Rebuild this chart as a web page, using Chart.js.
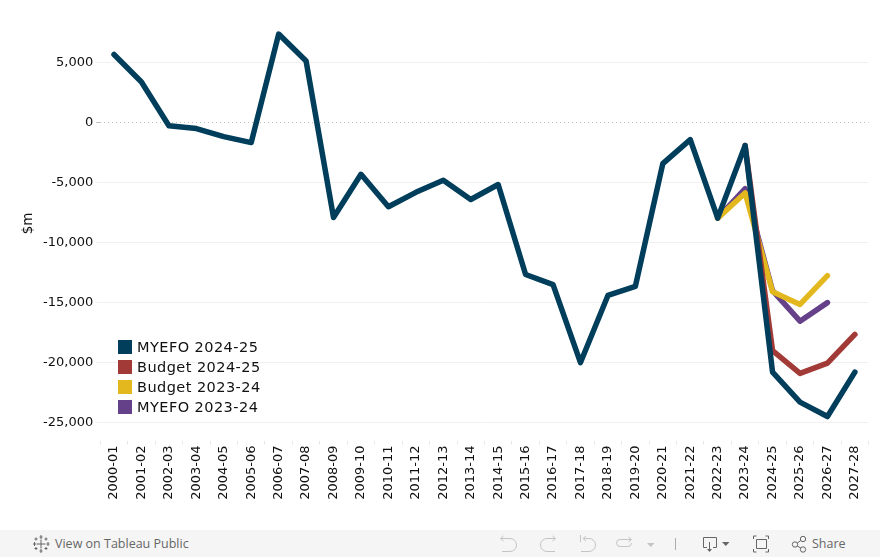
<!DOCTYPE html>
<html>
<head>
<meta charset="utf-8">
<script src="https://cdn.jsdelivr.net/npm/chart.js@4/dist/chart.umd.min.js"></script>
<style>
  html, body { margin: 0; padding: 0; background: #fff; }
  #wrap { position: relative; width: 880px; height: 557px; overflow: hidden; }
  #chart-box { position: absolute; left: 0; top: 0; width: 880px; height: 530px; }
  #legend { position: absolute; left: 118px; top: 337px; font: 14.5px "DejaVu Sans", sans-serif; letter-spacing: 0.45px; color: #111; }
  #legend div { height: 20px; line-height: 20px; white-space: nowrap; }
  #legend i { display: inline-block; width: 14px; height: 14px; margin-right: 5px; vertical-align: -2px; }
  #toolbar { position: absolute; left: 0; top: 530px; width: 880px; height: 27px; background: #f5f5f5;
    font: 12.5px "Open Sans", sans-serif; color: #666; }
  #toolbar span { position: absolute; top: 5px; white-space: nowrap; }
  #toolbar svg { position: absolute; left: 0; top: 0; }
</style>
</head>
<body>
<div id="wrap">
  <div id="chart-box"><canvas id="chart-deficit"></canvas></div>
  <div id="legend"></div>
  <div id="toolbar">
    <svg width="880" height="27" fill="none" stroke-width="1">
      <!-- tableau logo -->
      <path stroke="#666" d="M41 9.500v9M36.500 14h9M41 5v4M39.500 7h3M41 19v4M39.500 21h3M34.500 12v4M33 14h3M48 12v4M46.500 14h3M36 7.500v3M34.500 9h3M46 7.500v3M44.500 9h3M36 17v3M34.500 18.500h3M46 17v3M44.500 18.500h3"/>
      <g stroke="#c4c4c4">
        <path d="M501 8.500h9a6.500 6.500 0 0 1 0 13h-8M503.500 6l-3 2.500 3 2.500"/>
        <path d="M555 8.500h-8a6.500 6.500 0 0 0 0 13h8M552.500 6l3 2.500-3 2.500"/>
        <path d="M580.500 5v7M584 8.500h5a6.500 6.500 0 0 1 0 13h-8M586 6l-3 2.500 3 2.500"/>
        <path d="M631 9.500h-11a3.500 3.500 0 0 0 0 7h8a3.500 3.500 0 0 0 3.500-3.500M628.500 7l3 2.500-3 2.500"/>
        <path d="M647 13h7.500l-3.700 4z" fill="#c4c4c4" stroke="none"/>
        <path d="M675.500 8v12" stroke="#aaa"/>
      </g>
      <g stroke="#666">
        <path d="M707 17.500h-3.500v-10h13v10h-3.500M709.500 12v8"/>
        <path d="M707 19h5l-2.500 3z" fill="#666" stroke="none"/>
        <path d="M722 12h7.500l-3.700 4z" fill="#666" stroke="none"/>
        <path d="M753.500 9v-3h3M765.500 6h3v3M753.500 19v3h3M768.500 19v3h-3M756.500 9.500h10v9h-10z"/>
        <circle cx="795" cy="14.500" r="2.700"/><circle cx="803" cy="9" r="2.700"/><circle cx="803" cy="19.500" r="2.700"/>
        <path d="M797.300 13l3.500-2.500M797.300 16l3.500 2"/>
      </g>
    </svg>
    <span style="left:55px">View on Tableau Public</span>
    <span style="left:812px">Share</span>
  </div>
</div>
<script>
const years = ['2000-01','2001-02','2002-03','2003-04','2004-05','2005-06','2006-07','2007-08','2008-09','2009-10',
  '2010-11','2011-12','2012-13','2013-14','2014-15','2015-16','2016-17','2017-18','2018-19','2019-20',
  '2020-21','2021-22','2022-23','2023-24','2024-25','2025-26','2026-27','2027-28'];

const myefo2425 = [5700,3400,-250,-480,-1150,-1650,7400,5150,-7900,-4300,
  -7000,-5800,-4800,-6400,-5150,-12650,-13500,-20000,-14400,-13650,
  -3400,-1400,-7950,-1900,-20800,-23300,-24500,-20800];

const budget2425 = [null,null,null,null,null,null,null,null,null,null,
  null,null,null,null,null,null,null,null,null,null,
  null,null,null,-1900,-19000,-20900,-20050,-17650];

const budget2324 = [null,null,null,null,null,null,null,null,null,null,
  null,null,null,null,null,null,null,null,null,null,
  null,null,-7950,-5850,-14100,-15150,-12750,null];

const myefo2324 = [null,null,null,null,null,null,null,null,null,null,
  null,null,null,null,null,null,null,null,null,null,
  null,null,-7950,-5500,-14000,-16550,-15000,null];

const yTicks = [5000,0,-5000,-10000,-15000,-20000,-25000];

const seriesNames = ['MYEFO 2024-25','Budget 2024-25','Budget 2023-24','MYEFO 2023-24'];
const seriesColors = ['#003e5c','#a23b37','#e3b81f','#65418a'];
const seriesValues = [myefo2425, budget2425, budget2324, myefo2324];

const fontName = '"DejaVu Sans", sans-serif';

// legend is plain html, tableau puts it over the plot
document.getElementById('legend').innerHTML = seriesNames.map(function (name, i) {
  return '<div><i style="background:' + seriesColors[i] + '"></i>' + name + '</div>';
}).join('');

const ctx = document.getElementById('chart-deficit');
const myChart = new Chart(ctx, {
  type: 'line',
  data: {
    labels: years,
    datasets: seriesNames.map(function (name, i) {
      return {
        label: name,
        data: seriesValues[i],
        borderColor: seriesColors[i],
        backgroundColor: seriesColors[i],
        borderWidth: 5.5,
        borderCapStyle: 'round',
        borderJoinStyle: 'round',
        pointRadius: 0,
        tension: 0,
        order: i
      };
    })
  },
  options: {
    responsive: true,
    maintainAspectRatio: false,
    animation: false,
    layout: { padding: { top: 6.5, right: 11.4, left: 0, bottom: 0 } },
    plugins: { legend: { display: false }, tooltip: { enabled: false } },
    scales: {
      x: {
        offset: true,
        border: { display: false },
        grid: { offset: true, drawOnChartArea: false, drawTicks: true, tickLength: 4, color: '#e6e6e6' },
        ticks: { minRotation: 90, maxRotation: 90, autoSkip: false, color: '#111', padding: 1, font: { family: fontName, size: 13 } },
        afterFit: function (scale) {
          scale.height = 89.5;
          scale.paddingLeft = 0;
          scale.paddingRight = 0;
        }
      },
      y: {
        min: -26500,
        max: 9700,
        border: {
          display: false,
          dash: function (c) { return c.tick && c.tick.value === 0 ? [1, 3] : []; }
        },
        grid: {
          color: function (c) { return c.tick && c.tick.value === 0 ? '#bdbdbd' : '#f0f0f0'; },
          tickLength: 4
        },
        ticks: { color: '#111', padding: 3, font: { family: fontName, size: 13 } },
        title: { display: true, text: '$m', color: '#111', padding: { top: 20, bottom: 0 }, font: { family: fontName, size: 13.5 } },
        afterBuildTicks: function (scale) { scale.ticks = yTicks.map(function (v) { return { value: v }; }); },
        afterFit: function (scale) {
          scale.width = 100.3;
          scale.paddingTop = 0;
          scale.paddingBottom = 0;
        }
      }
    }
  }
});
</script>
</body>
</html>
